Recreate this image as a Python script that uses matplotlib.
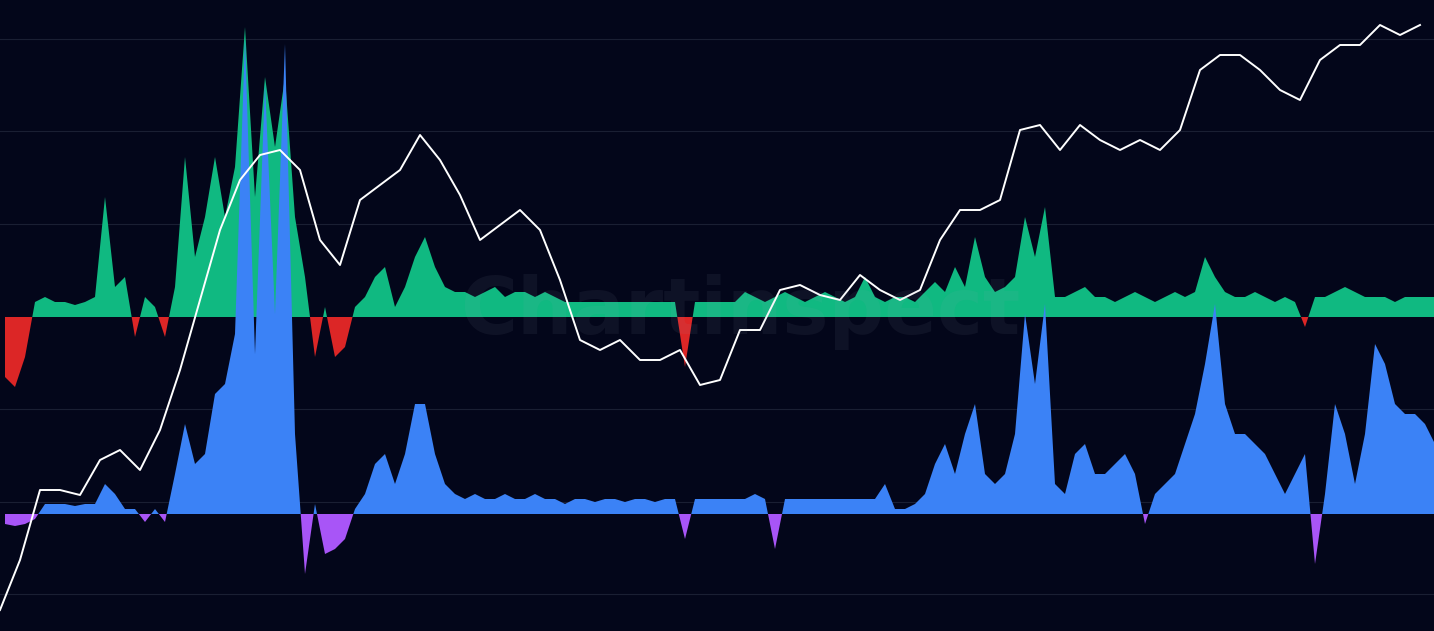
import numpy as np
import matplotlib.pyplot as plt

# price line, sampled every 20 px (screen y, smaller = higher)
price_x = list(range(0, 1440, 20))
price_y = [610, 560, 490, 490, 495, 460, 450, 470, 430, 370, 300, 230, 180, 155, 150, 170,
           240, 265, 200, 185, 170, 135, 160, 195, 240, 225, 210, 230, 280, 340, 350, 340,
           360, 360, 350, 385, 380, 330, 330, 290, 285, 295, 300, 275, 290, 300, 290, 240,
           210, 210, 200, 130, 125, 150, 125, 140, 150, 140, 150, 130, 70, 55, 55, 70,
           90, 100, 60, 45, 45, 25, 35, 25]

# upper oscillator (green above zero, red below), every 10 px
osc1 = [-60, -70, -40, 15, 20, 15, 15, 12, 15, 20, 120, 30, 40, -20, 20, 10, -20, 30, 160, 60,
        100, 160, 100, 150, 290, 120, 240, 170, 240, 100, 40, -40, 10, -40, -30, 10, 20, 40, 50, 10,
        30, 60, 80, 50, 30, 25, 25, 20, 25, 30, 20, 25, 25, 20, 25, 20, 15, 15, 15, 15,
        15, 15, 15, 15, 15, 15, 15, 15, -50, 15, 15, 15, 15, 15, 25, 20, 15, 20, 25, 20,
        15, 20, 25, 20, 15, 20, 40, 20, 15, 20, 20, 15, 25, 35, 25, 50, 30, 80, 40, 25,
        30, 40, 100, 60, 110, 20, 20, 25, 30, 20, 20, 15, 20, 25, 20, 15, 20, 25, 20, 25,
        60, 40, 25, 20, 20, 25, 20, 15, 20, 15, -10, 20, 20, 25, 30, 25, 20, 20, 20, 15,
        20, 20, 20, 20]

# lower oscillator (blue above zero, purple below), every 10 px
osc2 = [-10, -12, -10, -5, 10, 10, 10, 8, 10, 10, 30, 20, 5, 5, -8, 5, -8, 40, 90, 50,
        60, 120, 130, 180, 475, 160, 430, 200, 470, 80, -60, 10, -40, -35, -25, 5, 20, 50, 60, 30,
        60, 110, 110, 60, 30, 20, 15, 20, 15, 15, 20, 15, 15, 20, 15, 15, 10, 15, 15, 12,
        15, 15, 12, 15, 15, 12, 15, 15, -25, 15, 15, 15, 15, 15, 15, 20, 15, -35, 15, 15,
        15, 15, 15, 15, 15, 15, 15, 15, 30, 5, 5, 10, 20, 50, 70, 40, 80, 110, 40, 30,
        40, 80, 200, 130, 210, 30, 20, 60, 70, 40, 40, 50, 60, 40, -10, 20, 30, 40, 70, 100,
        150, 210, 110, 80, 80, 70, 60, 40, 20, 40, 60, -50, 20, 110, 80, 30, 80, 170, 150, 110,
        100, 100, 90, 70]

bg = "#03061a"
fig = plt.figure(figsize=(14.34, 6.31), dpi=100, facecolor=bg)
ax = fig.add_axes([0, 0, 1, 1], facecolor=bg)
ax.set_xlim(0, 1434)
ax.set_ylim(631, 0)
ax.axis("off")

for gy in [39, 131, 224, 409, 502, 594]:
    ax.axhline(gy, color="#1a1f33", lw=0.8, zorder=0)

x = np.arange(len(osc1)) * 10 + 5
o1 = np.array(osc1)
y1 = 317 - o1
ax.fill_between(x, 317, y1, where=o1 >= 0, interpolate=True, color="#10b981", lw=0, zorder=1)
ax.fill_between(x, 317, y1, where=o1 <= 0, interpolate=True, color="#dc2626", lw=0, zorder=1)

o2 = np.array(osc2)
y2 = 514 - o2
ax.fill_between(x, 514, y2, where=o2 >= 0, interpolate=True, color="#3b82f6", lw=0, zorder=2)
ax.fill_between(x, 514, y2, where=o2 <= 0, interpolate=True, color="#a855f7", lw=0, zorder=2)

ax.plot(price_x, price_y, color="white", lw=1.4, zorder=3)

ax.text(740, 312, "Chartinspect", color="#9aa0b5", alpha=0.08, fontsize=56,
        fontweight="bold", ha="center", va="center", zorder=4)

fig.savefig("out.png", dpi=100, facecolor=bg)
